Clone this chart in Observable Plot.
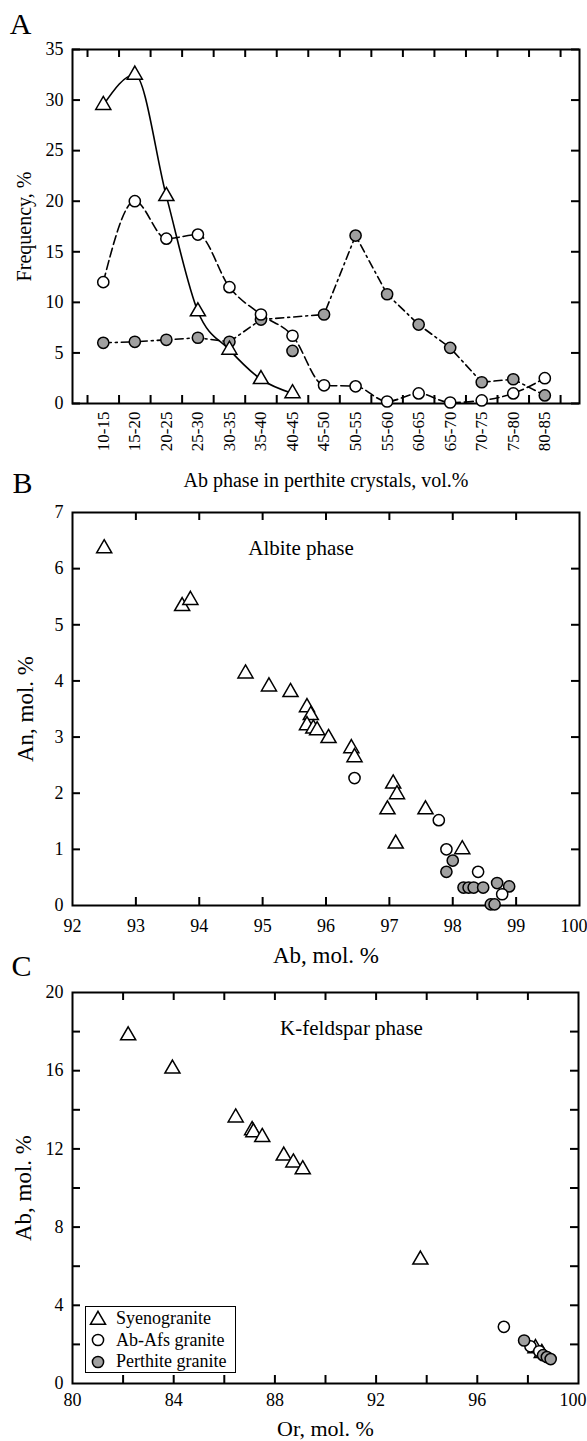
<!DOCTYPE html>
<html><head><meta charset="utf-8">
<script src="https://cdn.jsdelivr.net/npm/d3@7"></script>
<script src="https://cdn.jsdelivr.net/npm/@observablehq/plot@0.6"></script>
<style>
body{margin:0;background:#fff;}
#wrap{position:relative;width:587px;height:1441px;font-family:"Liberation Serif","Times New Roman",serif;}
.panel{position:absolute;left:0;}
.panel svg{overflow:visible;}
#legend{position:absolute;left:85px;top:1306px;width:149px;height:64px;border:1.5px solid #000;background:#fff;font-size:18px;line-height:21.5px;padding-top:1px;}
#legend .row{display:flex;align-items:center;height:21.5px;}
#legend svg{margin-left:5px;margin-right:11px;}
</style></head><body><div id="wrap"></div>
<script>
// ---------- Panel A data ----------
const binLabels = ["10-15","15-20","20-25","25-30","30-35","35-40","40-45","45-50","50-55","55-60","60-65","65-70","70-75","75-80","80-85"];
const syenoFreq = [29.5, 32.5, 20.5, 9.1, 5.3, 2.4, 1.0];
const abAfsFreq = [12.0, 20.0, 16.3, 16.7, 11.5, 8.8, 6.7, 1.8, 1.7, 0.2, 1.0, 0.1, 0.3, 1.0, 2.5];
const perthiteFreq = [6.0, 6.1, 6.3, 6.5, 6.1, 8.3, 5.2, 8.8, 16.6, 10.8, 7.8, 5.5, 2.1, 2.4, 0.8];
// bins whose perthite-granite marker stands apart from its dash-dot line in the original
const perthiteOffLine = ["40-45"];

// ---------- Panel B data (Ab, An mol.%) ----------
const syenoB_Ab = [92.5, 93.73, 93.86, 94.73, 95.1, 95.44, 95.7, 95.76, 95.7, 95.8, 95.86, 96.04, 96.4, 96.45, 97.06, 97.12, 96.97, 97.1, 97.57, 98.15];
const syenoB_An = [6.36, 5.33, 5.44, 4.13, 3.9, 3.8, 3.53, 3.39, 3.21, 3.15, 3.12, 2.98, 2.8, 2.64, 2.17, 1.98, 1.71, 1.1, 1.71, 1.0];
const abAfsB_Ab = [96.45, 97.78, 97.9, 98.4, 98.78];
const abAfsB_An = [2.27, 1.52, 1.0, 0.6, 0.2];
const perthiteB_Ab = [98.0, 97.9, 98.17, 98.25, 98.33, 98.48, 98.7, 98.89, 98.6, 98.66];
const perthiteB_An = [0.8, 0.6, 0.32, 0.32, 0.32, 0.32, 0.4, 0.34, 0.02, 0.02];

// ---------- Panel C data (Or, Ab mol.%) ----------
const syenoC_Or = [82.2, 83.95, 86.45, 87.1, 87.15, 87.5, 88.35, 88.73, 89.1, 93.75, 98.3, 98.55];
const syenoC_Ab = [17.8, 16.1, 13.6, 12.95, 12.85, 12.6, 11.65, 11.3, 10.95, 6.33, 1.8, 1.55];
const abAfsC_Or = [97.05, 98.1, 98.45];
const abAfsC_Ab = [2.9, 1.9, 1.65];
const perthiteC_Or = [97.85, 98.6, 98.75, 98.9];
const perthiteC_Ab = [2.2, 1.45, 1.35, 1.25];

const legendLabels = ["Syenogranite", "Ab-Afs granite", "Perthite granite"];

// ---------- helpers ----------
const FONT = '"Liberation Serif","Times New Roman",serif';
const GREY = "#a0a0a0";
const W = 587;
const bounds = l => l.split("-").map(Number);
const mid = l => { const [a, b] = bounds(l); return (a + b) / 2; };
const mids = binLabels.map(mid);
const edges = [...binLabels.map(l => bounds(l)[0]), bounds(binLabels[binLabels.length - 1])[1]];
const freqRows = vals => vals.map((v, i) => ({x: mids[i], y: v, bin: binLabels[i]}));
const zipRows = (xs, ys) => xs.map((x, i) => ({x, y: ys[i]}));
const T = {lineAnchor: "middle", textAnchor: "middle"};

function innerTicks(xTicks, yTicks, plotW, plotH, len = 8) {
  return [
    Plot.tickX(xTicks, {x: d => d, insetTop: plotH - len, strokeWidth: 2}),
    Plot.tickX(xTicks, {x: d => d, insetBottom: plotH - len, strokeWidth: 2}),
    Plot.tickY(yTicks, {y: d => d, insetRight: plotW - len, strokeWidth: 2}),
    Plot.tickY(yTicks, {y: d => d, insetLeft: plotW - len, strokeWidth: 2})
  ];
}
// x tick labels; the last one (at the right frame edge) is right-aligned so it stays on the page
function xLabels(ticks, pad) {
  const inner = ticks.slice(0, -1), last = ticks.slice(-1);
  return [
    Plot.axisX({ticks: inner, tickFormat: d => String(d), tickSize: 0, tickPadding: pad, label: null, fontSize: 18}),
    Plot.text(last, {x: d => d, text: d => String(d), frameAnchor: "bottom", textAnchor: "end", lineAnchor: "top", dx: 8, dy: pad, fontSize: 18})
  ];
}
function dots(rows, kind, r = 5.6) {
  const o = {x: "x", y: "y", r, stroke: "black", strokeWidth: 1.5};
  if (kind === "tri") return Plot.dot(rows, {...o, symbol: "triangle", fill: "white"});
  if (kind === "open") return Plot.dot(rows, {...o, symbol: "circle", fill: "white"});
  return Plot.dot(rows, {...o, symbol: "circle", fill: GREY});
}
const style = {background: "transparent", overflow: "visible", fontFamily: FONT, fontSize: "18px", color: "black"};
const wrap = document.getElementById("wrap");
function place(svg, top) {
  const d = document.createElement("div");
  d.className = "panel"; d.style.top = top + "px";
  d.appendChild(svg); wrap.appendChild(d);
}

// ---------- Panel A ----------
{
  const mT = 49, mB = 92, mL = 72, mR = 8, H = 495;
  const plotW = W - mL - mR, plotH = H - mT - mB;
  const per = freqRows(perthiteFreq);
  const svg = Plot.plot({
    width: W, height: H, marginTop: mT, marginBottom: mB, marginLeft: mL, marginRight: mR,
    style,
    x: {domain: [7.62, 88.0], label: null},
    y: {domain: [0, 35], label: null},
    marks: [
      ...innerTicks(edges, d3.range(0, 36, 5), plotW, plotH),
      Plot.frame({stroke: "black", strokeWidth: 2}),
      Plot.axisX({ticks: mids, tickFormat: d => binLabels[mids.indexOf(d)], tickRotate: -90, tickSize: 0, tickPadding: 8, label: null, fontSize: 17}),
      Plot.axisY({ticks: d3.range(0, 36, 5), tickFormat: d => String(d), tickSize: 0, tickPadding: 9, label: null, fontSize: 18}),
      Plot.line(freqRows(syenoFreq), {x: "x", y: "y", curve: "monotone-x", strokeWidth: 1.6}),
      Plot.line(freqRows(abAfsFreq), {x: "x", y: "y", curve: "monotone-x", strokeWidth: 1.6, strokeDasharray: "9,4"}),
      Plot.line(per.filter(d => !perthiteOffLine.includes(d.bin)), {x: "x", y: "y", curve: "linear", strokeWidth: 1.6, strokeDasharray: "8,4,2,4"}),
      dots(per, "grey"),
      dots(freqRows(abAfsFreq), "open"),
      dots(freqRows(syenoFreq), "tri"),
      Plot.text(["Frequency, %"], {...T, text: d => d, frameAnchor: "left", rotate: -90, dx: -48, fontSize: 20}),
      Plot.text(["Ab phase in perthite crystals, vol.%"], {...T, text: d => d, frameAnchor: "bottom", dy: 77, fontSize: 20}),
      Plot.text(["A"], {...T, text: d => d, frameAnchor: "top-left", dx: -52, dy: -25, fontSize: 30})
    ]
  });
  place(svg, 0);
}

// ---------- Panel B ----------
{
  const mT = 17, mB = 60, mL = 72, mR = 8, H = 470;
  const plotW = W - mL - mR, plotH = H - mT - mB;
  const svg = Plot.plot({
    width: W, height: H, marginTop: mT, marginBottom: mB, marginLeft: mL, marginRight: mR,
    style,
    x: {domain: [92, 100], label: null},
    y: {domain: [0, 7], label: null},
    marks: [
      ...innerTicks(d3.range(93, 100), d3.range(1, 7), plotW, plotH),
      Plot.frame({stroke: "black", strokeWidth: 2}),
      ...xLabels(d3.range(92, 101), 14),
      Plot.axisY({ticks: d3.range(0, 8), tickFormat: d => String(d), tickSize: 0, tickPadding: 9, label: null, fontSize: 18}),
      dots(zipRows(perthiteB_Ab, perthiteB_An), "grey"),
      dots(zipRows(abAfsB_Ab, abAfsB_An), "open"),
      dots(zipRows(syenoB_Ab, syenoB_An), "tri"),
      Plot.text(["Albite phase"], {...T, text: d => d, frameAnchor: "top", dx: -25, dy: 36, fontSize: 21}),
      Plot.text(["Ab, mol. %"], {...T, text: d => d, frameAnchor: "bottom", dy: 50, fontSize: 23}),
      Plot.text(["An, mol. %"], {...T, text: d => d, frameAnchor: "left", rotate: -90, dx: -47, fontSize: 23}),
      Plot.text(["B"], {...T, text: d => d, frameAnchor: "top-left", dx: -50, dy: -29, fontSize: 30})
    ]
  });
  place(svg, 495);
}

// ---------- Panel C ----------
{
  const mT = 27, mB = 58, mL = 72, mR = 9, H = 476;
  const plotW = W - mL - mR, plotH = H - mT - mB;
  const svg = Plot.plot({
    width: W, height: H, marginTop: mT, marginBottom: mB, marginLeft: mL, marginRight: mR,
    style,
    x: {domain: [80, 100], label: null},
    y: {domain: [0, 20], label: null},
    marks: [
      ...innerTicks(d3.range(82, 100, 2), d3.range(2, 20, 2), plotW, plotH),
      Plot.frame({stroke: "black", strokeWidth: 2}),
      ...xLabels(d3.range(80, 101, 4), 10),
      Plot.axisY({ticks: d3.range(0, 21, 4), tickFormat: d => String(d), tickSize: 0, tickPadding: 9, label: null, fontSize: 18}),
      dots(zipRows(syenoC_Or, syenoC_Ab), "tri"),
      dots(zipRows(abAfsC_Or, abAfsC_Ab), "open"),
      dots(zipRows(perthiteC_Or, perthiteC_Ab), "grey"),
      Plot.text(["K-feldspar phase"], {...T, text: d => d, frameAnchor: "top", dx: 26, dy: 36, fontSize: 21}),
      Plot.text(["Or, mol. %"], {...T, text: d => d, frameAnchor: "bottom", dy: 45, fontSize: 22}),
      Plot.text(["Ab, mol. %"], {...T, text: d => d, frameAnchor: "left", rotate: -90, dx: -49, fontSize: 23}),
      Plot.text(["C"], {...T, text: d => d, frameAnchor: "top-left", dx: -51, dy: -26, fontSize: 30})
    ]
  });
  place(svg, 965);
}

// ---------- Legend (panel C) ----------
{
  const lg = document.createElement("div");
  lg.id = "legend";
  const kinds = ["tri", "open", "grey"];
  legendLabels.forEach((lab, i) => {
    const row = document.createElement("div");
    row.className = "row";
    const k = kinds[i];
    const shape = k === "tri"
      ? `<path d="${d3.symbol(d3.symbolTriangle, Math.PI * 5.6 * 5.6)()}" transform="translate(7,8)" fill="white" stroke="black" stroke-width="1.5"/>`
      : `<circle cx="7" cy="7" r="5.6" fill="${k === "grey" ? GREY : "white"}" stroke="black" stroke-width="1.5"/>`;
    row.innerHTML = `<svg width="14" height="14" style="overflow:visible">${shape}</svg><span>${lab}</span>`;
    lg.appendChild(row);
  });
  wrap.appendChild(lg);
}
</script></body></html>
